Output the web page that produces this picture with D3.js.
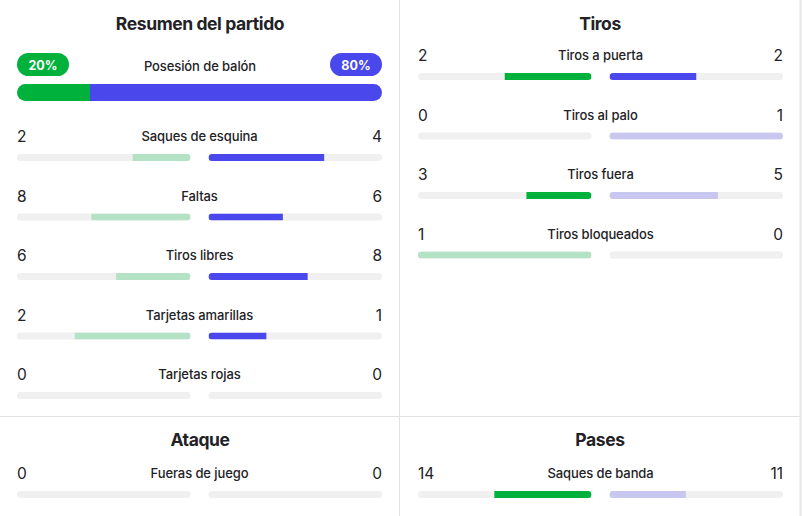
<!DOCTYPE html>
<html>
<head>
<meta charset="utf-8">
<script src="https://cdn.jsdelivr.net/npm/d3@7"></script>
<style>
  body { margin: 0; background: #fff; }
  svg { display: block; font-family: "Inter", "Noto Sans", sans-serif; }
</style>
</head>
<body>
<svg id="chart" width="802" height="516"></svg>
<script>
// match data
const possession = [20, 80];

const summaryLabels = ["Saques de esquina", "Faltas", "Tiros libres", "Tarjetas amarillas", "Tarjetas rojas"];
const summaryHome = [2, 8, 6, 2, 0];
const summaryAway = [4, 6, 8, 1, 0];
const summaryLowerBetter = [false, true, false, true, true];

const shotsLabels = ["Tiros a puerta", "Tiros al palo", "Tiros fuera", "Tiros bloqueados"];
const shotsHome = [2, 0, 3, 1];
const shotsAway = [2, 1, 5, 0];
const shotsLowerBetter = [false, true, true, true];

const attackLabels = ["Fueras de juego"];
const attackHome = [0];
const attackAway = [0];
const attackLowerBetter = [true];

const passLabels = ["Saques de banda"];
const passHome = [14];
const passAway = [11];
const passLowerBetter = [false];

const green= "#00b23c";
const greenLight= "#b4e2c5";
const blue= "#4a48ec";
const blueLight= "#c8c7f0";
const track= "#f0f0f0";
const ink= "#222226";

const svg= d3.select("#chart");
let clipCount= 0;

// dividers
svg.append("line").attr("x1", 399.5).attr("x2", 399.5).attr("y1", 0).attr("y2", 516)
    .attr("stroke", "#e2e2e2").attr("stroke-width", 1);
svg.append("line").attr("x1", 0).attr("x2", 801).attr("y1", 416.5).attr("y2", 416.5)
    .attr("stroke", "#e2e2e2").attr("stroke-width", 1);
svg.append("line").attr("x1", 800.5).attr("x2", 800.5).attr("y1", 0).attr("y2", 516)
    .attr("stroke", "#e6e6e6").attr("stroke-width", 2);

function title(text, cx, y) {
    svg.append("text")
        .attr("x", cx).attr("y", y)
        .attr("text-anchor", "middle")
        .attr("font-size", 17.5).attr("font-weight", 700)
        .attr("letter-spacing", -0.4)
        .attr("fill", ink)
        .text(text)
}

function label(text, cx, y) {
    svg.append("text").attr("x", cx).attr("y", y).attr("text-anchor", "middle")
        .attr("font-size", 13).attr("font-weight", 500).attr("letter-spacing", -0.1)
        .attr("fill", ink).text(text)
}

function clippedTrack(x, y, w, h) {
    const id= "clip" + (clipCount++);
    svg.append("clipPath").attr("id", id)
        .append("rect").attr("x", x).attr("y", y).attr("width", w).attr("height", h).attr("rx", h / 2);
    svg.append("rect").attr("x", x).attr("y", y).attr("width", w).attr("height", h)
        .attr("rx", h / 2).attr("fill", track);
    return svg.append("g").attr("clip-path", `url(#${id})`);
}

function drawRows(labels, home, away, lowerBetter, x0, yStart) {
    const width= 365, gap= 18, barH= 7, step= 59.5;
    const half= (width - gap) / 2;
    labels.forEach((name, i) => {
        const y= yStart + i * step;
        const total= home[i] + away[i];
        const scale= d3.scaleLinear().domain([0, total || 1]).range([0, half]);
        const homeWins= lowerBetter[i] ? home[i] <= away[i] : home[i] >= away[i];
        const awayWins= lowerBetter[i] ? away[i] <= home[i] : away[i] >= home[i];

        svg.append("text").attr("x", x0).attr("y", y).attr("font-size", 15.5).attr("fill", ink).text(home[i]);
        svg.append("text").attr("x", x0 + width).attr("y", y).attr("text-anchor", "end")
            .attr("font-size", 15.5).attr("fill", ink).text(away[i]);
        label(name, x0 + width / 2, y - 1);

        const barY= y + 12;
        const gl= clippedTrack(x0, barY, half, barH);
        gl.append("rect")
            .attr("x", x0 + half - scale(home[i])).attr("y", barY)
            .attr("width", scale(home[i])).attr("height", barH)
            .attr("fill", homeWins ? green : greenLight);
        const rx0= x0 + half + gap;
        const gr= clippedTrack(rx0, barY, half, barH);
        gr.append("rect")
            .attr("x", rx0).attr("y", barY)
            .attr("width", scale(away[i])).attr("height", barH)
            .attr("fill", awayWins ? blue : blueLight);
    });
}

// Resumen del partido
title("Resumen del partido", 200, 30);

const pScale= d3.scaleLinear().domain([0, 100]).range([17, 382]);
label("Posesión de balón", 200, 71);

[[17, green, possession[0]], [330, blue, possession[1]]].forEach(p => {
    svg.append("rect").attr("x", p[0]).attr("y", 53).attr("width", 52).attr("height", 23)
        .attr("rx", 11.5).attr("fill", p[1]);
    svg.append("text").attr("x", p[0] + 26).attr("y", 69.5).attr("text-anchor", "middle")
        .attr("font-size", 12.5).attr("font-weight", 700).attr("fill", "#fff").text(p[2] + "%");
});

const pg= clippedTrack(pScale(0), 84, pScale(100) - pScale(0), 17);
pg.append("rect").attr("x", pScale(0)).attr("y", 84)
    .attr("width", pScale(possession[0]) - pScale(0)).attr("height", 17).attr("fill", green);
pg.append("rect").attr("x", pScale(possession[0])).attr("y", 84)
    .attr("width", pScale(100) - pScale(possession[0])).attr("height", 17).attr("fill", blue);

drawRows(summaryLabels, summaryHome, summaryAway, summaryLowerBetter, 17, 142);

// Tiros
title("Tiros", 600, 30);
drawRows(shotsLabels, shotsHome, shotsAway, shotsLowerBetter, 418, 61);

// Ataque
title("Ataque", 200, 446);
drawRows(attackLabels, attackHome, attackAway, attackLowerBetter, 17, 479);

// Pases
title("Pases", 600, 446);
drawRows(passLabels, passHome, passAway, passLowerBetter, 418, 479);
</script>
</body>
</html>
